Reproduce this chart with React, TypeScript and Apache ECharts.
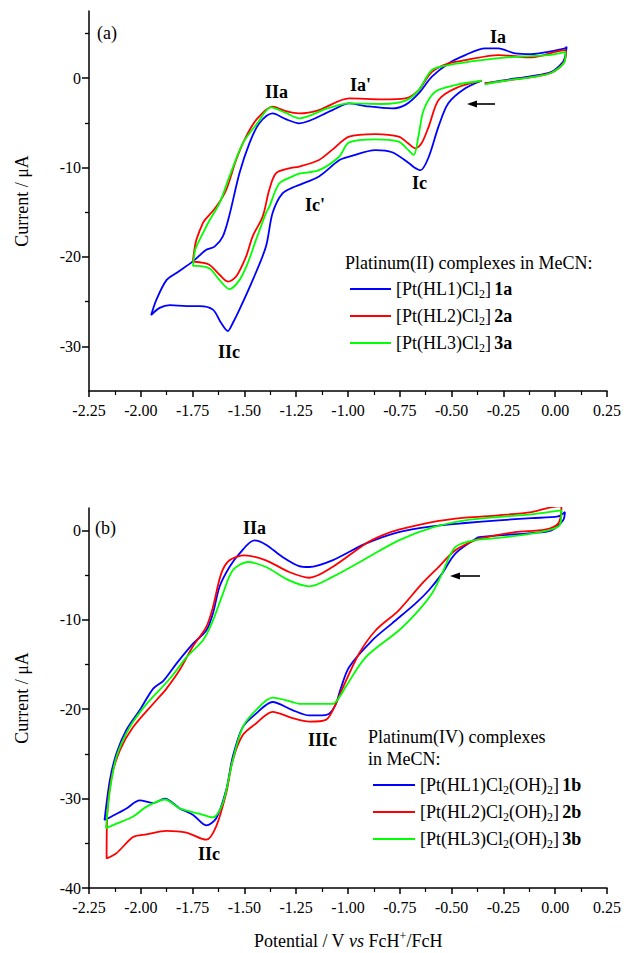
import React, { useEffect, useRef } from 'react';
import * as echarts from 'echarts';

const FONT = '"Liberation Serif", "Times New Roman", serif';

// potential axis (V vs FcH+/FcH)
const xMin = -2.25;
const xMax = 0.25;
const xStep = 0.25;

// current axes (µA)
const topYMin = -35;
const topYMax = 7.5;
const topYLabels = [-30, -20, -10, 0];
const topYMinor = [-25, -15, -5, 5];
const botYMin = -40;
const botYMax = 2.5;
const botYLabels = [-40, -30, -20, -10, 0];
const botYMinor = [-35, -25, -15, -5];

// (a) Platinum(II) complexes — [potential, current]
const cv1a: number[][] = [
  [-0.355, -0.3], [-0.434, -1.15], [-0.515, -2.8], [-0.563, -5.4], [-0.61, -8.8], [-0.65, -10.3], [-0.68, -10.0],
  [-0.707, -9.5], [-0.787, -8.3], [-0.867, -8.05], [-0.995, -8.8], [-1.043, -9.2], [-1.14, -11.0], [-1.252, -12.1],
  [-1.316, -12.9], [-1.364, -15.1], [-1.396, -18.85], [-1.46, -22.6], [-1.524, -25.9], [-1.556, -27.4], [-1.58, -28.3],
  [-1.612, -27.4], [-1.652, -25.9], [-1.716, -25.5], [-1.78, -25.5], [-1.86, -25.4], [-1.909, -25.7], [-1.95, -26.5],
  [-1.925, -24.8], [-1.876, -22.6], [-1.828, -21.8], [-1.749, -20.5], [-1.684, -19.2], [-1.644, -18.85], [-1.604, -17.7],
  [-1.572, -15.3], [-1.524, -10.65], [-1.476, -7.3], [-1.428, -5.06], [-1.364, -3.95], [-1.3, -4.6], [-1.236, -5.06],
  [-1.075, -3.58], [-0.995, -2.83], [-0.915, -3.13], [-0.787, -3.39], [-0.723, -3.0], [-0.659, -1.71], [-0.595, 0.15],
  [-0.515, 1.64], [-0.434, 2.57], [-0.338, 3.32], [-0.274, 3.32], [-0.194, 2.76], [-0.114, 2.68], [-0.034, 2.94],
  [0.047, 3.32], [0.055, 3.5], [0.05, 2.6], [0.038, 1.82], [-0.018, 0.7], [-0.114, 0.22], [-0.242, -0.22], [-0.34, -0.6],
];
const cv2a: number[][] = [
  [-0.355, -0.3], [-0.482, -1.15], [-0.563, -2.46], [-0.61, -5.4], [-0.645, -7.3], [-0.675, -7.86], [-0.71, -7.3],
  [-0.755, -6.55], [-0.867, -6.26], [-0.995, -6.55], [-1.075, -8.0], [-1.14, -9.16], [-1.236, -9.9], [-1.284, -10.1],
  [-1.348, -10.65], [-1.38, -12.5], [-1.412, -15.5], [-1.46, -17.7], [-1.492, -19.97], [-1.54, -22.2], [-1.58, -22.76],
  [-1.62, -22.0], [-1.668, -20.9], [-1.716, -20.6], [-1.748, -20.5], [-1.74, -19.0], [-1.732, -18.1], [-1.7, -16.2],
  [-1.684, -15.7], [-1.636, -14.4], [-1.588, -12.5], [-1.54, -9.16], [-1.492, -6.55], [-1.44, -4.6], [-1.364, -3.2],
  [-1.3, -3.7], [-1.236, -3.95], [-1.14, -3.58], [-0.995, -2.27], [-0.835, -2.38], [-0.723, -2.27], [-0.659, -1.34],
  [-0.595, 0.7], [-0.515, 1.64], [-0.434, 2.0], [-0.274, 2.57], [-0.114, 2.31], [0.047, 3.13], [0.052, 2.8],
  [0.04, 1.7], [-0.018, 0.6], [-0.114, 0.1], [-0.242, -0.3], [-0.34, -0.6],
];
const cv3a: number[][] = [
  [-0.355, -0.3], [-0.482, -0.78], [-0.579, -1.53], [-0.635, -3.6], [-0.66, -6.5], [-0.683, -8.6], [-0.72, -7.8],
  [-0.755, -7.1], [-0.867, -6.85], [-0.995, -7.2], [-1.043, -8.8], [-1.14, -10.3], [-1.236, -10.7], [-1.268, -11.0],
  [-1.332, -11.8], [-1.38, -14.4], [-1.396, -15.1], [-1.444, -18.1], [-1.484, -20.7], [-1.524, -22.6], [-1.572, -23.6],
  [-1.62, -22.6], [-1.668, -21.3], [-1.732, -21.0], [-1.748, -21.0], [-1.74, -19.5], [-1.732, -18.85], [-1.684, -16.6],
  [-1.668, -15.9], [-1.62, -14.0], [-1.572, -11.0], [-1.508, -7.3], [-1.436, -5.0], [-1.372, -3.28], [-1.3, -3.9],
  [-1.236, -4.5], [-1.1, -3.4], [-0.995, -2.83], [-0.835, -2.9], [-0.723, -2.53], [-0.659, -1.34], [-0.595, 0.9],
  [-0.515, 1.45], [-0.355, 2.0], [-0.194, 2.38], [-0.034, 2.57], [0.05, 2.94], [0.045, 1.8], [-0.018, 0.6],
  [-0.114, 0.1], [-0.242, -0.3], [-0.34, -0.7],
];

// (b) Platinum(IV) complexes — [potential, current]
const cv1b: number[][] = [
  [-0.37, -0.75], [-0.482, -2.6], [-0.546, -4.84], [-0.61, -6.7], [-0.675, -8.2], [-0.787, -10.4], [-0.883, -12.3],
  [-0.995, -15.3], [-1.035, -17.7], [-1.06, -19.5], [-1.091, -20.5], [-1.14, -20.7], [-1.187, -20.7], [-1.268, -20.1],
  [-1.364, -19.2], [-1.444, -20.5], [-1.508, -22.0], [-1.556, -25.3], [-1.588, -29.05], [-1.636, -32.2], [-1.684, -33.0],
  [-1.749, -31.8], [-1.812, -31.1], [-1.884, -30.0], [-1.94, -30.5], [-2.005, -30.2], [-2.069, -31.1], [-2.141, -32.0],
  [-2.175, -32.4], [-2.149, -27.9], [-2.117, -24.9], [-2.069, -22.3], [-2.005, -20.1], [-1.94, -17.7], [-1.89, -16.8],
  [-1.828, -14.9], [-1.749, -12.7], [-1.684, -11.2], [-1.652, -9.3], [-1.62, -6.3], [-1.572, -4.1], [-1.524, -2.6],
  [-1.452, -1.12], [-1.396, -1.6], [-1.316, -2.98], [-1.236, -4.0], [-1.187, -4.1], [-1.075, -3.35], [-0.915, -1.49],
  [-0.755, -0.19], [-0.595, 0.45], [-0.434, 0.82], [-0.274, 1.12], [-0.114, 1.37], [0.014, 1.56], [0.047, 2.05],
  [0.038, 1.12], [-0.018, 0.0], [-0.114, -0.3], [-0.274, -0.56], [-0.37, -0.75],
];
const cv2b: number[][] = [
  [-0.37, -0.93], [-0.482, -2.23], [-0.563, -4.1], [-0.643, -5.96], [-0.755, -8.94], [-0.867, -11.2], [-0.947, -13.8],
  [-1.027, -17.7], [-1.051, -19.0], [-1.107, -21.2], [-1.187, -21.4], [-1.268, -21.0], [-1.364, -20.3], [-1.444, -21.6],
  [-1.508, -22.9], [-1.556, -25.7], [-1.588, -29.4], [-1.636, -33.1], [-1.684, -34.6], [-1.78, -33.8], [-1.876, -33.6],
  [-1.972, -34.0], [-2.037, -34.3], [-2.117, -36.1], [-2.165, -36.7], [-2.162, -31.7], [-2.141, -27.6], [-2.101, -24.6],
  [-2.037, -22.0], [-1.925, -19.0], [-1.876, -17.7], [-1.812, -15.6], [-1.749, -13.0], [-1.684, -10.8], [-1.652, -8.6],
  [-1.612, -4.84], [-1.572, -3.35], [-1.5, -2.8], [-1.396, -3.35], [-1.284, -4.66], [-1.187, -5.3], [-1.075, -4.1],
  [-0.915, -1.49], [-0.835, -0.56], [-0.755, 0.07], [-0.595, 0.93], [-0.434, 1.42], [-0.274, 1.68], [-0.114, 2.05],
  [0.014, 2.68], [0.03, 2.6], [0.014, 0.75], [-0.05, 0.07], [-0.194, -0.19], [-0.37, -0.93],
];
const cv3b: number[][] = [
  [-0.37, -1.04], [-0.482, -1.87], [-0.546, -4.84], [-0.595, -7.07], [-0.659, -8.94], [-0.755, -11.2], [-0.915, -14.2],
  [-1.011, -17.5], [-1.04, -18.6], [-1.075, -19.4], [-1.236, -19.4], [-1.268, -19.2], [-1.364, -18.7], [-1.444, -20.1],
  [-1.508, -22.0], [-1.556, -25.7], [-1.604, -30.5], [-1.652, -32.1], [-1.716, -31.7], [-1.812, -31.1], [-1.884, -30.1],
  [-1.972, -30.9], [-2.037, -32.0], [-2.117, -32.8], [-2.168, -33.3], [-2.149, -29.05], [-2.117, -25.3], [-2.053, -22.0],
  [-1.972, -19.4], [-1.86, -16.6], [-1.78, -14.2], [-1.7, -12.3], [-1.652, -10.1], [-1.604, -7.1], [-1.556, -4.47],
  [-1.484, -3.54], [-1.396, -4.1], [-1.284, -5.6], [-1.187, -6.26], [-1.075, -5.2], [-0.915, -3.17], [-0.755, -1.12],
  [-0.595, 0.3], [-0.434, 1.12], [-0.274, 1.49], [-0.114, 1.79], [0.03, 2.23], [0.022, 0.56], [-0.114, -0.37],
  [-0.37, -1.04],
];

const seriesNamesA = ['1a', '2a', '3a'];
const seriesNamesB = ['1b', '2b', '3b'];
const ligands = ['HL1', 'HL2', 'HL3'];
const colors = ['#0000ff', '#ff0000', '#00ff00'];

const richText = {
  n: { fontSize: 18, fontFamily: FONT, color: '#000', lineHeight: 22 },
  s: { fontSize: 12, fontFamily: FONT, color: '#000', lineHeight: 10, verticalAlign: 'bottom' },
  b: { fontSize: 18, fontFamily: FONT, color: '#000', fontWeight: 'bold', lineHeight: 22 },
};

function axisX(gridIndex: number, withName: boolean) {
  return {
    type: 'value',
    gridIndex,
    min: xMin,
    max: xMax,
    interval: xStep,
    axisLine: { show: true, onZero: false, lineStyle: { color: '#000', width: 1.5 } },
    axisTick: { show: true, length: 6, lineStyle: { color: '#000', width: 1.5 } },
    minorTick: { show: true, splitNumber: 2, length: 4, lineStyle: { color: '#000', width: 1.2 } },
    splitLine: { show: false },
    minorSplitLine: { show: false },
    axisLabel: {
      color: '#000',
      fontSize: 16,
      fontFamily: FONT,
      margin: 11,
      formatter: (v: number) => v.toFixed(2),
    },
    name: withName ? '{n|Potential / V }{i|vs}{n| FcH}{p|+}{n|/FcH}' : '',
    nameLocation: 'middle',
    nameGap: 42,
    nameTextStyle: {
      rich: {
        n: { fontSize: 18, fontFamily: FONT, color: '#000', lineHeight: 22 },
        i: { fontSize: 18, fontFamily: FONT, color: '#000', fontStyle: 'italic', lineHeight: 22 },
        p: { fontSize: 12, fontFamily: FONT, color: '#000', lineHeight: 12, verticalAlign: 'top' },
      },
    },
  };
}

function axisY(gridIndex: number, min: number, max: number, labels: number[]) {
  return {
    type: 'value',
    gridIndex,
    min,
    max,
    position: 'left',
    axisLine: { show: true, onZero: false, lineStyle: { color: '#000', width: 1.5 } },
    axisTick: { show: true, length: 7, customValues: labels, lineStyle: { color: '#000', width: 1.5 } },
    splitLine: { show: false },
    axisLabel: { color: '#000', fontSize: 16, fontFamily: FONT, margin: 8, customValues: labels },
    name: 'Current / μA',
    nameLocation: 'middle',
    nameGap: 58,
    nameTextStyle: { fontSize: 18, fontFamily: FONT, color: '#000' },
  };
}

function axisYMinor(gridIndex: number, min: number, max: number, ticks: number[]) {
  return {
    type: 'value',
    gridIndex,
    min,
    max,
    position: 'left',
    offset: 0,
    axisLine: { show: false, onZero: false },
    axisTick: { show: true, length: 4, customValues: ticks, lineStyle: { color: '#000', width: 1.3 } },
    axisLabel: { show: false },
    splitLine: { show: false },
  };
}

function cvSeries(name: string, data: number[][], color: string, xi: number, yi: number) {
  return {
    name,
    type: 'line',
    xAxisIndex: xi,
    yAxisIndex: yi,
    data,
    smooth: 0.3,
    symbol: 'none',
    showSymbol: false,
    color,
    itemStyle: { color },
    lineStyle: { color, width: 1.8 },
    emphasis: { disabled: true },
  };
}

function label(text: string, x: number, y: number, bold = true) {
  return {
    type: 'text',
    x,
    y,
    style: {
      text,
      fill: '#000',
      font: `${bold ? 'bold ' : ''}18px ${FONT}`,
      fontSize: 18,
      fontFamily: FONT,
      fontWeight: bold ? 'bold' : 'normal',
      align: 'left',
      verticalAlign: 'middle',
      textAlign: 'left',
      textVerticalAlign: 'middle',
    },
  };
}

function arrow(x1: number, x2: number, y: number) {
  return [
    { type: 'line', shape: { x1: x1 + 6, y1: y, x2, y2: y }, style: { stroke: '#000', lineWidth: 1.6 } },
    { type: 'polygon', shape: { points: [[x1, y], [x1 + 10, y - 3.5], [x1 + 10, y + 3.5]] }, style: { fill: '#000' } },
  ];
}

export default function App() {
  const ref = useRef<HTMLDivElement>(null);
  useEffect(() => {
    if (!ref.current) return;
    const chart = echarts.init(ref.current, undefined, { renderer: 'svg' });
    const option: any = {
      animation: false,
      backgroundColor: '#fff',
      grid: [
        { left: 89, top: 11, width: 520, height: 380, containLabel: false },
        { left: 89, top: 508, width: 520, height: 380, containLabel: false },
      ],
      xAxis: [axisX(0, false), axisX(1, true)],
      yAxis: [
        axisY(0, topYMin, topYMax, topYLabels),
        axisYMinor(0, topYMin, topYMax, topYMinor),
        axisY(1, botYMin, botYMax, botYLabels),
        axisYMinor(1, botYMin, botYMax, botYMinor),
      ],
      legend: [
        {
          data: seriesNamesA,
          orient: 'vertical',
          left: 345,
          top: 275,
          icon: 'rect',
          itemWidth: 41,
          itemHeight: 2,
          itemGap: 7,
          selectedMode: false,
          textStyle: { rich: richText },
          formatter: (name: string) => {
            const i = seriesNamesA.indexOf(name);
            return `{n|[Pt(${ligands[i]})Cl}{s|2}{n|]} {b|${name}}`;
          },
        },
        {
          data: seriesNamesB,
          orient: 'vertical',
          left: 368,
          top: 771,
          icon: 'rect',
          itemWidth: 42,
          itemHeight: 2,
          itemGap: 7,
          selectedMode: false,
          textStyle: { rich: richText },
          formatter: (name: string) => {
            const i = seriesNamesB.indexOf(name);
            return `{n|[Pt(${ligands[i]})Cl}{s|2}{n|(OH)}{s|2}{n|]} {b|${name}}`;
          },
        },
      ],
      graphic: [
        label('(a)', 97, 33, false),
        label('IIa', 265, 92),
        label("Ia'", 350, 85),
        label('Ia', 490, 37),
        label('Ic', 412, 183),
        label("Ic'", 305, 205),
        label('IIc', 218, 352),
        label('Platinum(II) complexes in MeCN:', 345, 263, false),
        label('(b)', 95, 528, false),
        label('IIa', 243, 528),
        label('IIIc', 308, 740),
        label('IIc', 198, 854),
        label('Platinum(IV) complexes', 368, 737, false),
        label('in MeCN:', 368, 759, false),
        ...arrow(467, 495, 104),
        ...arrow(450, 480, 576),
      ],
      series: [
        cvSeries('1a', cv1a, colors[0], 0, 0),
        cvSeries('2a', cv2a, colors[1], 0, 0),
        cvSeries('3a', cv3a, colors[2], 0, 0),
        cvSeries('1b', cv1b, colors[0], 1, 2),
        cvSeries('2b', cv2b, colors[1], 1, 2),
        cvSeries('3b', cv3b, colors[2], 1, 2),
      ],
    };
    chart.setOption(option);
    return () => chart.dispose();
  }, []);
  return (
    <div
      ref={ref}
      style={{ position: 'absolute', left: 0, top: 0, width: 624, height: 953, background: '#fff' }}
    />
  );
}
